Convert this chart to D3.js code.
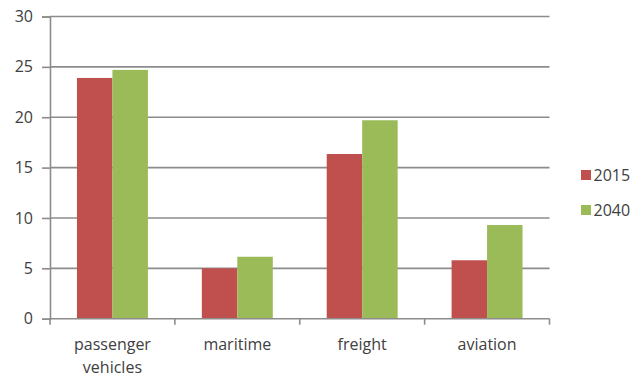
<!DOCTYPE html>
<html>
<head>
<meta charset="utf-8">
<script src="https://cdn.jsdelivr.net/npm/d3@7/dist/d3.min.js"></script>
<style>
  html, body { margin: 0; padding: 0; background: #fff; }
  svg { display: block; }
  text { font-family: "Open Sans", "Liberation Sans", sans-serif; fill: #404040; }
</style>
</head>
<body>
<svg id="chart" width="635" height="378"></svg>
<script>
const categories = ["passenger vehicles", "maritime", "freight", "aviation"];
const seriesNames = ["2015", "2040"];
const values2015 = [23.9, 5.0, 16.35, 5.8];
const values2040 = [24.7, 6.15, 19.7, 9.3];
const yTicks = [0, 5, 10, 15, 20, 25, 30];
const colors = ["#c0504d", "#9bbb59"];

const svg = d3.select("#chart");
const plotLeft = 50, plotRight = 549.5, plotTop = 16.5, plotBottom = 318.7;
const gridColor = "#8c8c8c";

const y = d3.scaleLinear().domain([0, 30]).range([plotBottom, plotTop]);
const x = d3.scaleBand().domain(categories).range([plotLeft, plotRight]).paddingInner(0).paddingOuter(0);
const x1 = d3.scaleBand().domain(seriesNames).range([0, x.bandwidth()]).paddingInner(0).paddingOuter(0.76);
const color = d3.scaleOrdinal().domain(seriesNames).range(colors);

// gridlines
svg.append("g").selectAll("line").data(yTicks.filter(d => d > 0)).join("line")
  .attr("x1", plotLeft).attr("x2", plotRight)
  .attr("y1", d => y(d)).attr("y2", d => y(d))
  .attr("stroke", gridColor).attr("stroke-width", 1.6);

// y axis
const yAxis = svg.append("g").attr("transform", `translate(${plotLeft},0)`)
  .call(d3.axisLeft(y).tickValues(yTicks).tickSize(8).tickPadding(9));
yAxis.select(".domain").attr("stroke", gridColor).attr("stroke-width", 1.6);
yAxis.selectAll(".tick line").attr("stroke", gridColor).attr("stroke-width", 1.6);
yAxis.selectAll("text").style("font-size", "16px").attr("fill", "#404040");

// bars
const rows = categories.map((c, i) => ({ cat: c, vals: [values2015[i], values2040[i]] }));
const groups = svg.append("g").selectAll("g").data(rows).join("g")
  .attr("transform", d => `translate(${x(d.cat)},0)`);
groups.selectAll("rect").data(d => d.vals.map((v, j) => ({ key: seriesNames[j], v }))).join("rect")
  .attr("x", d => x1(d.key))
  .attr("width", x1.bandwidth())
  .attr("y", d => y(d.v))
  .attr("height", d => y(0) - y(d.v))
  .attr("fill", d => color(d.key));

// x axis
const xAxisG = svg.append("g").attr("transform", `translate(0,${plotBottom})`);
xAxisG.append("line").attr("x1", plotLeft).attr("x2", plotRight).attr("y1", 0).attr("y2", 0)
  .attr("stroke", gridColor).attr("stroke-width", 1.6);
const bounds = categories.map(c => x(c)).concat([plotRight]);
xAxisG.selectAll("line.t").data(bounds).join("line").attr("class", "t")
  .attr("x1", d => d).attr("x2", d => d).attr("y1", 0).attr("y2", 6)
  .attr("stroke", gridColor).attr("stroke-width", 1.6);
const labels = xAxisG.selectAll("text").data(categories).join("text")
  .attr("x", d => x(d) + x.bandwidth() / 2)
  .attr("text-anchor", "middle")
  .style("font-size", "16px");
labels.each(function(d) {
  const words = d.split(" ");
  const t = d3.select(this);
  if (words.length > 1 && d.length > 12) {
    words.forEach((w, i) => t.append("tspan").attr("x", x(d) + x.bandwidth() / 2).attr("y", 31 + i * 23).text(w));
  } else {
    t.attr("y", 31).text(d);
  }
});

// legend
const legend = svg.append("g").selectAll("g").data(seriesNames).join("g")
  .attr("transform", (d, i) => `translate(581,${170 + i * 35})`);
legend.append("rect").attr("width", 10).attr("height", 10).attr("fill", d => color(d));
legend.append("text").attr("x", 12.5).attr("y", 10.7).style("font-size", "16px").text(d => d);
</script>
</body>
</html>
